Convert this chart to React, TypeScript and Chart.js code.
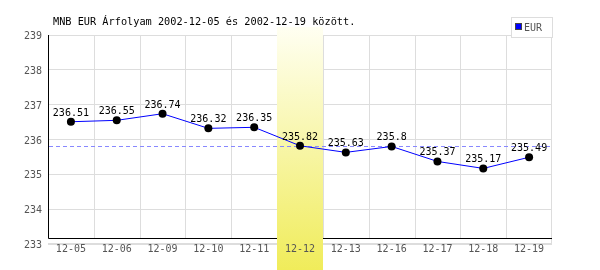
import React, { useEffect, useRef } from "react";
import { Chart, registerables } from "chart.js";

Chart.register(...registerables);

const titleText = "MNB EUR Árfolyam 2002-12-05 és 2002-12-19 között.";
const seriesName = "EUR";
const categories = ["12-05", "12-06", "12-09", "12-10", "12-11", "12-12", "12-13", "12-16", "12-17", "12-18", "12-19"];
const values = [236.51, 236.55, 236.74, 236.32, 236.35, 235.82, 235.63, 235.8, 235.37, 235.17, 235.49];
const highlightCategory = "12-12";
const referenceValue = 235.82;
const yMin = 233;
const yMax = 239;

const MONO = "'DejaVu Sans Mono', monospace";

const customPlugin = {
  id: "custom",
  beforeDatasetsDraw(chart: any) {
    const { ctx, chartArea, scales } = chart;
    const xs = scales.x;
    const ys = scales.y;
    const n = categories.length;
    const bw = (chartArea.right - chartArea.left) / n;
    const axisY = chartArea.bottom - 6;
    ctx.save();
    // vertical grid lines
    ctx.strokeStyle = "#dddddd";
    ctx.lineWidth = 1;
    for (let i = 1; i < n; i++) {
      const x = Math.round(xs.getPixelForValue(i) - bw / 2) + 0.5;
      ctx.beginPath();
      ctx.moveTo(x, chartArea.top);
      ctx.lineTo(x, axisY);
      ctx.stroke();
    }
    const rx = Math.round(chartArea.right) - 0.5;
    ctx.beginPath();
    ctx.moveTo(rx, chartArea.top);
    ctx.lineTo(rx, chartArea.bottom);
    ctx.stroke();
    const by = Math.round(chartArea.bottom) - 0.5;
    ctx.beginPath();
    ctx.moveTo(chartArea.left, by);
    ctx.lineTo(chartArea.right, by);
    ctx.stroke();
    // black axes
    ctx.strokeStyle = "#000000";
    ctx.beginPath();
    const lx = Math.round(chartArea.left) + 0.5;
    ctx.moveTo(lx, chartArea.top);
    ctx.lineTo(lx, axisY + 0.5);
    ctx.lineTo(chartArea.right, axisY + 0.5);
    ctx.stroke();
    // highlight band
    const hi = categories.indexOf(highlightCategory);
    if (hi >= 0) {
      const cx = xs.getPixelForValue(hi);
      const g = ctx.createLinearGradient(0, 27, 0, 270);
      g.addColorStop(0, "#fffff2");
      g.addColorStop(1, "#f0ec5a");
      ctx.fillStyle = g;
      ctx.fillRect(Math.round(cx - bw / 2), 27, Math.round(bw), 243);
    }
    // reference dashed line
    const ry = Math.round(ys.getPixelForValue(referenceValue)) + 0.5;
    ctx.strokeStyle = "#8888ff";
    ctx.setLineDash([4, 3]);
    ctx.beginPath();
    ctx.moveTo(chartArea.left + 1, ry);
    ctx.lineTo(chartArea.right, ry);
    ctx.stroke();
    ctx.restore();
  },
  afterDraw(chart: any) {
    const { ctx } = chart;
    ctx.save();
    // title
    ctx.fillStyle = "#000000";
    ctx.font = `10.25px ${MONO}`;
    ctx.textAlign = "left";
    ctx.textBaseline = "alphabetic";
    ctx.fillText(titleText, 53, 25);
    // data labels
    const meta = chart.getDatasetMeta(0);
    ctx.font = `10px ${MONO}`;
    ctx.textAlign = "center";
    meta.data.forEach((pt: any, i: number) => {
      ctx.fillText(String(values[i]), pt.x, pt.y - 6);
    });
    // legend
    const bx = 511.5, by = 17.5, bwid = 41, bh = 20;
    ctx.fillStyle = "#ffffff";
    ctx.fillRect(bx, by, bwid, bh);
    ctx.strokeStyle = "#dddddd";
    ctx.lineWidth = 1;
    ctx.strokeRect(bx, by, bwid, bh);
    ctx.fillStyle = "#0000ff";
    ctx.fillRect(515, 23, 7, 7);
    ctx.strokeStyle = "#444444";
    ctx.strokeRect(515.5, 23.5, 6, 6);
    ctx.fillStyle = "#555555";
    ctx.font = `10px ${MONO}`;
    ctx.textAlign = "left";
    ctx.fillText(seriesName, 524, 31);
    ctx.restore();
  },
};

export default function App() {
  const ref = useRef<HTMLCanvasElement | null>(null);
  useEffect(() => {
    document.body.style.margin = "0";
    const canvas = ref.current;
    if (!canvas) return;
    const chart = new Chart(canvas, {
      type: "line",
      data: {
        labels: categories,
        datasets: [
          {
            label: seriesName,
            data: values,
            borderColor: "#0000ff",
            borderWidth: 1,
            pointRadius: 4,
            pointBackgroundColor: "#000000",
            pointBorderColor: "#000000",
            pointBorderWidth: 0,
            tension: 0,
            fill: false,
          },
        ],
      },
      options: {
        responsive: false,
        animation: false,
        devicePixelRatio: 1,
        layout: { padding: { top: 35, right: 48, left: 0, bottom: 0 } },
        plugins: {
          legend: { display: false },
          title: { display: false },
          tooltip: { enabled: false },
        },
        scales: {
          x: {
            type: "category",
            offset: true,
            grid: { display: false },
            border: { display: false },
            ticks: {
              font: { family: MONO, size: 10 },
              color: "#555555",
              maxRotation: 0,
              autoSkip: false,
              padding: -9,
              z: 1,
            },
            afterFit: (s: any) => {
              s.height = 26;
            },
          },
          y: {
            min: yMin,
            max: yMax,
            grid: { color: "#dddddd", drawTicks: false },
            border: { display: false },
            ticks: {
              stepSize: 1,
              font: { family: MONO, size: 10 },
              color: "#555555",
              padding: 6,
              labelOffset: 1.5,
            },
            afterFit: (s: any) => {
              s.width = 48;
            },
          },
        },
      },
      plugins: [customPlugin],
    });
    return () => chart.destroy();
  }, []);
  return (
    <div style={{ position: "absolute", left: 0, top: 0, width: 600, height: 270 }}>
      <canvas ref={ref} width={600} height={270} style={{ display: "block" }} />
    </div>
  );
}
